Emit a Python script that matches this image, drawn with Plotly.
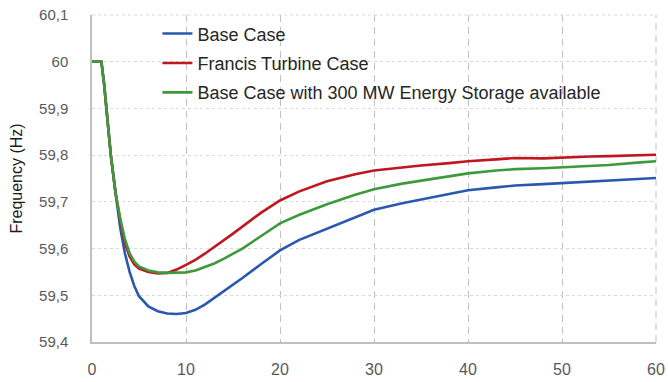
import plotly.graph_objects as go

# Time (s)
time_s = [0, 1, 1.3, 1.6, 2, 2.5, 3, 3.5, 4, 4.5, 5, 6, 7, 8, 9, 10, 11, 12, 13, 14,
          15, 16, 18, 20, 22, 25, 28, 30, 33, 35, 38, 40, 43, 45, 48, 50, 53, 55, 58, 60]

base_case = [60, 60, 59.95, 59.88, 59.80, 59.72, 59.645, 59.59, 59.55, 59.52, 59.498,
             59.476, 59.466, 59.461, 59.46, 59.462, 59.469, 59.48, 59.494, 59.508, 59.522,
             59.537, 59.567, 59.596, 59.618, 59.643, 59.668, 59.683, 59.697, 59.705,
             59.717, 59.725, 59.731, 59.735, 59.738, 59.74, 59.743, 59.745, 59.749, 59.751]

francis_case = [60, 60, 59.95, 59.88, 59.80, 59.72, 59.66, 59.612, 59.583, 59.566, 59.557,
                59.55, 59.547, 59.548, 59.555, 59.565, 59.576, 59.589, 59.603, 59.617, 59.632,
                59.647, 59.677, 59.703, 59.722, 59.744, 59.759, 59.767, 59.774, 59.778,
                59.783, 59.787, 59.791, 59.794, 59.793, 59.795, 59.797, 59.798, 59.80, 59.801]

storage_case = [60, 60, 59.95, 59.88, 59.80, 59.72, 59.665, 59.62, 59.59, 59.572, 59.562,
                59.553, 59.549, 59.548, 59.548, 59.549, 59.553, 59.56, 59.568, 59.578, 59.589,
                59.60, 59.627, 59.654, 59.672, 59.695, 59.715, 59.727, 59.739, 59.745,
                59.755, 59.761, 59.767, 59.77, 59.772, 59.774, 59.777, 59.779, 59.784, 59.787]

series_names = ["Base Case", "Francis Turbine Case",
                "Base Case with 300 MW Energy Storage available"]
series_colors = ["#2A58AD", "#C0161F", "#3C9A3C"]

y_tickvals = [59.4, 59.5, 59.6, 59.7, 59.8, 59.9, 60.0, 60.1]
y_ticktext = ["59,4", "59,5", "59,6", "59,7", "59,8", "59,9", "60", "60,1"]
x_tickvals = [0, 10, 20, 30, 40, 50, 60]

FONT = "Liberation Sans, Arial, sans-serif"

fig = go.Figure()
for i, (name, vals, col) in enumerate(zip(series_names,
                                          [base_case, francis_case, storage_case],
                                          series_colors)):
    fig.add_trace(go.Scatter(
        x=time_s, y=vals, mode="lines", name=name,
        line=dict(color=col, width=2.6),
        legendgroup=f"g{i}",
    ))

fig.update_layout(
    width=668, height=382,
    margin=dict(l=92, r=12, t=15, b=40),
    paper_bgcolor="white", plot_bgcolor="white",
    font=dict(family=FONT, color="#404040"),
    showlegend=True,
    legend=dict(
        x=0.116, y=0.999, xanchor="left", yanchor="top",
        bgcolor="rgba(0,0,0,0)", borderwidth=0,
        font=dict(size=18, color="#262626", family=FONT),
        tracegroupgap=3,
    ),
    shapes=[
        # dashed frame lines at the top and right edges of the plot area (grid style)
        dict(type="line", xref="paper", yref="paper", x0=0, x1=1, y0=1, y1=1,
             line=dict(color="#D9D9D9", width=1, dash="3px,3px"), layer="below"),
        dict(type="line", xref="paper", yref="paper", x0=1, x1=1, y0=0, y1=1,
             line=dict(color="#BFBFBF", width=1, dash="7px,5px"), layer="below"),
    ],
)

fig.update_xaxes(
    range=[0, 60], tickvals=x_tickvals, showgrid=True,
    gridcolor="#BFBFBF", griddash="7px,5px", gridwidth=1,
    showline=True, linecolor="#BFBFBF", linewidth=1.5,
    zeroline=False, ticks="",
    tickfont=dict(size=16, color="#595959", family=FONT),
    ticklabelstandoff=12,
    automargin=False,
)
fig.update_yaxes(
    range=[59.4, 60.1], tickvals=y_tickvals, ticktext=y_ticktext, showgrid=True,
    gridcolor="#D9D9D9", griddash="3px,3px", gridwidth=1,
    showline=True, linecolor="#BFBFBF", linewidth=1.5,
    zeroline=False, ticks="",
    tickfont=dict(size=15, color="#595959", family=FONT),
    ticklabelstandoff=19,
    ticklabeloverflow="allow",
    title=dict(text="Frequency (Hz)", font=dict(size=16, color="#1a1a1a", family=FONT),
               standoff=12),
    automargin=False,
)

# remove the browser's default 8 px body margin so the figure fills the window
fig.write_html("out.html", config={"displayModeBar": False},
               post_script="document.body.style.margin='0px';")
